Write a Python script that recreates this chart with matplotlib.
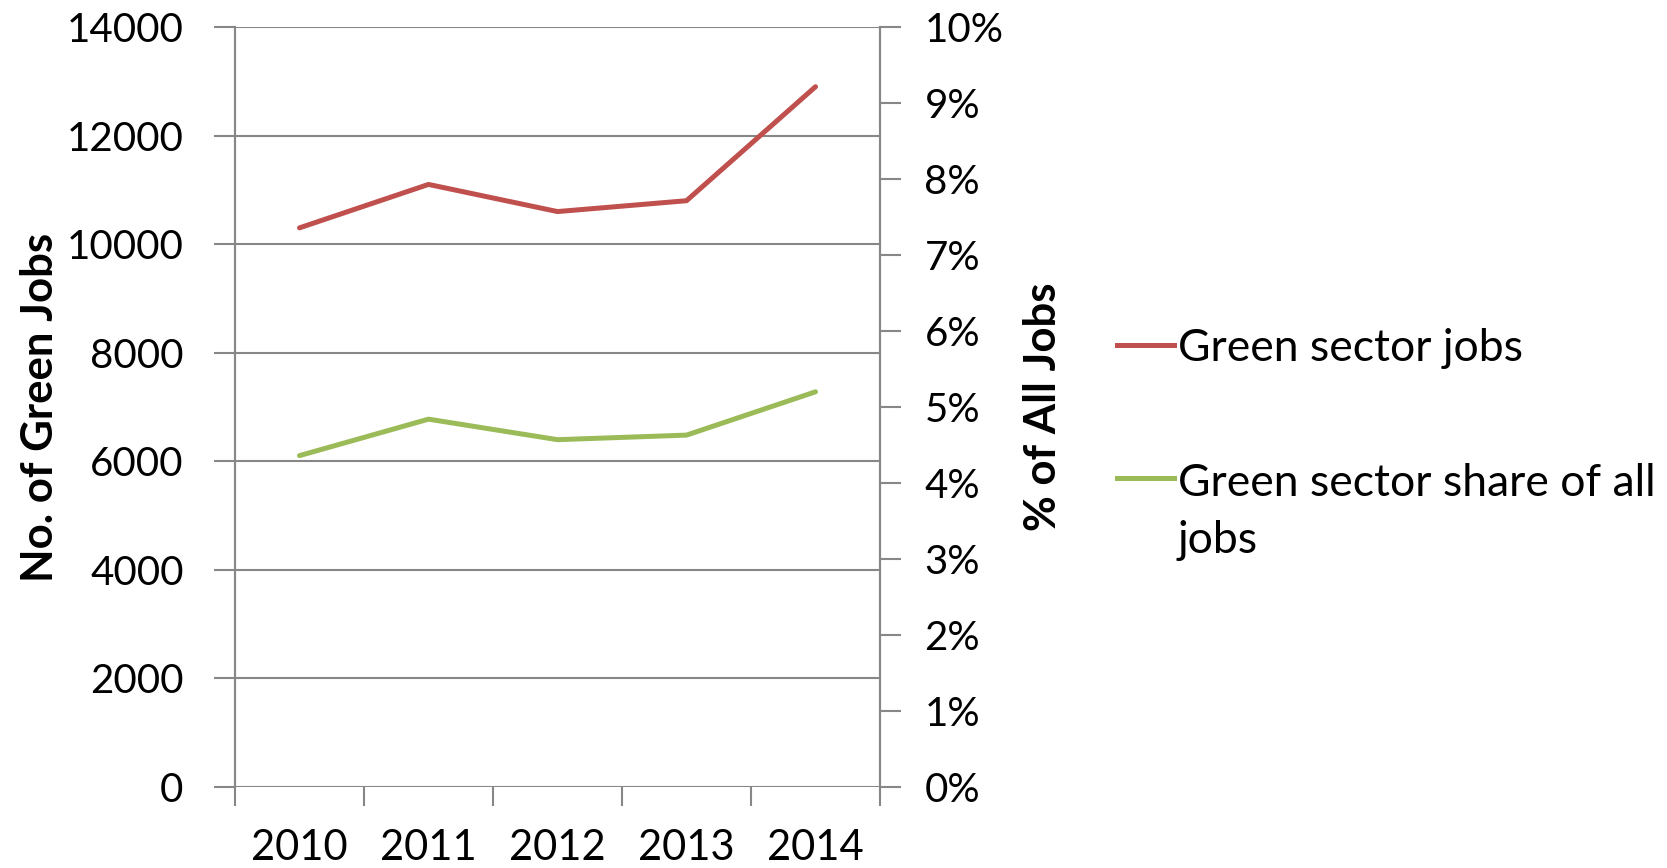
import matplotlib.pyplot as plt
from matplotlib.lines import Line2D

plt.rcParams['font.family'] = ['Lato', 'DejaVu Sans']

years = ["2010", "2011", "2012", "2013", "2014"]
green_jobs = [10300, 11100, 10600, 10800, 12900]
green_share = [0.0436, 0.0484, 0.0457, 0.0463, 0.0520]
series_names = ["Green sector jobs", "Green sector share of all\njobs"]
series_colors = ["#C0504D", "#9BBB59"]

grey = "#878787"

fig = plt.figure(figsize=(16.67, 8.68), dpi=100)
ax = fig.add_axes([235 / 1667, 1 - 787 / 868, 645 / 1667, 760 / 868])
ax2 = ax.twinx()

x = [i + 0.5 for i in range(len(years))]
ax.plot(x, green_jobs, color=series_colors[0], lw=3.6, solid_capstyle="round", zorder=3)
ax2.plot(x, green_share, color=series_colors[1], lw=3.6, solid_capstyle="round", zorder=3)

# left axis
ax.set_xlim(0, len(years))
ax.set_ylim(0, 14000)
ax.set_yticks(range(0, 14001, 2000))
ax.grid(axis="y", color=grey, lw=1.5)
ax.set_axisbelow(True)
ax.tick_params(axis="y", direction="out", length=15, width=1.5, color=grey,
               pad=22, labelsize=29)

# categories between ticks
ax.set_xticks(range(len(years) + 1))
ax.set_xticklabels([])
ax.set_xticks(x, minor=True)
ax.set_xticklabels(years, minor=True)
ax.tick_params(axis="x", which="major", direction="out", length=14, width=1.5, color=grey)
ax.tick_params(axis="x", which="minor", length=0, pad=30, labelsize=30)

# right axis
ax2.set_ylim(0, 0.10)
ax2.set_yticks([i / 100 for i in range(11)])
ax2.set_yticklabels([f"{i}%" for i in range(11)])
ax2.tick_params(axis="y", direction="out", length=15, width=1.5, color=grey,
                pad=17, labelsize=29)

for a in (ax, ax2):
    for side in ("top", "bottom"):
        a.spines[side].set_visible(False)
    for side in ("left", "right"):
        a.spines[side].set_color(grey)
        a.spines[side].set_linewidth(1.5)

ax.set_ylabel("No. of Green Jobs", fontsize=31.5, fontweight="bold")
ax.yaxis.set_label_coords(-0.272, 0.5)
ax2.set_ylabel("% of All Jobs", fontsize=31.5, fontweight="bold", rotation=90)
ax2.yaxis.set_label_coords(1.222, 0.5)

# legend at the right, handle level with the middle of the first text line
# (va="baseline" puts the last line's baseline at y, so push down per extra line)
legend_y = [345, 478]
line_gap = 59
for name, color, ly in zip(series_names, series_colors, legend_y):
    fig.add_artist(Line2D([1117 / 1667, 1174 / 1667], [1 - ly / 868] * 2,
                          transform=fig.transFigure, color=color, lw=3.6))
    extra = name.count("\n") * line_gap
    fig.text(1178 / 1667, 1 - (ly + 16 + extra) / 868, name, fontsize=32, va="baseline",
             ha="left", linespacing=1.5)

fig.savefig("out.png", dpi=100)
